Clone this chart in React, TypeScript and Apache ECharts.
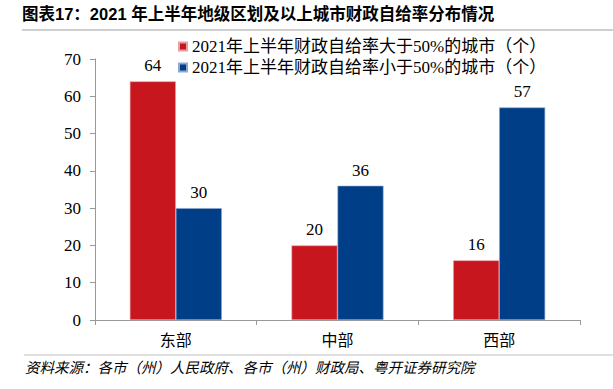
import React, { useEffect, useRef } from "react";
import * as echarts from "echarts";

const categories = ["东部", "中部", "西部"];
const seriesNames = [
  "2021年上半年财政自给率大于50%的城市（个）",
  "2021年上半年财政自给率小于50%的城市（个）",
];
const above50 = [64, 20, 16];
const below50 = [30, 36, 57];
const yTicks = { min: 0, max: 70, interval: 10 };

const titleText = "图表17：2021 年上半年地级区划及以上城市财政自给率分布情况";
const sourceText = "资料来源：各市（州）人民政府、各市（州）财政局、粤开证券研究院";

const SERIF = "'Liberation Serif', 'Times New Roman', 'Noto Sans CJK SC', serif";
const SANS = "'Liberation Sans', Arial, 'Noto Sans CJK SC', sans-serif";

export default function App() {
  const ref = useRef<HTMLDivElement>(null);
  useEffect(() => {
    if (!ref.current) return;
    const chart = echarts.init(ref.current, undefined, { renderer: "svg" });
    const labelStyle = {
      show: true,
      position: "top" as const,
      distance: 7,
      fontFamily: SERIF,
      fontSize: 17,
      color: "#000",
    };
    chart.setOption({
      animation: false,
      backgroundColor: "#fff",
      grid: { left: 95, right: 33, top: 59, bottom: 69, containLabel: false },
      legend: {
        orient: "vertical",
        left: 173,
        top: 33,
        itemWidth: 8,
        itemHeight: 8,
        itemGap: 4,
        icon: "rect",
        textStyle: { fontFamily: SERIF, fontSize: 17, color: "#000", lineHeight: 17 },
        data: seriesNames,
      },
      xAxis: {
        type: "category",
        data: categories,
        axisLine: { lineStyle: { color: "#999", width: 1 } },
        axisTick: { show: true, length: 5, inside: false, lineStyle: { color: "#999" } },
        axisLabel: { fontFamily: SERIF, fontSize: 16, color: "#000", margin: 12 },
      },
      yAxis: {
        type: "value",
        min: yTicks.min,
        max: yTicks.max,
        interval: yTicks.interval,
        axisLine: { show: true, lineStyle: { color: "#999", width: 1 } },
        axisTick: { show: true, length: 5, lineStyle: { color: "#999" } },
        axisLabel: { fontFamily: SERIF, fontSize: 17, color: "#000", margin: 14 },
        splitLine: { show: false },
      },
      series: [
        {
          name: seriesNames[0],
          type: "bar",
          data: above50,
          barWidth: 46,
          barGap: "0%",
          itemStyle: { color: "#C8161E", borderColor: "#E5A0A4", borderWidth: 0.6 },
          label: labelStyle,
        },
        {
          name: seriesNames[1],
          type: "bar",
          data: below50,
          barWidth: 46,
          barGap: "0%",
          itemStyle: { color: "#003F87", borderColor: "#8FA8D0", borderWidth: 0.6 },
          label: labelStyle,
        },
      ],
      graphic: [
        {
          type: "text",
          left: 22,
          top: 6,
          style: {
            text: titleText,
            font: `bold 16.5px ${SANS}`,
            fill: "#000",
          },
        },
        {
          type: "line",
          shape: { x1: 22, y1: 30, x2: 613, y2: 30 },
          style: { stroke: "#BFBFBF", lineWidth: 1.5 },
        },
        {
          type: "line",
          shape: { x1: 24, y1: 355, x2: 613, y2: 355 },
          style: { stroke: "#BFBFBF", lineWidth: 1 },
        },
        {
          type: "text",
          left: 25,
          top: 361,
          style: {
            text: sourceText,
            font: `italic 14.5px ${SANS}`,
            fill: "#000",
          },
        },
      ],
    });
    return () => chart.dispose();
  }, []);
  return <div ref={ref} style={{ width: 613, height: 389, position: "absolute", left: 0, top: 0 }} />;
}
